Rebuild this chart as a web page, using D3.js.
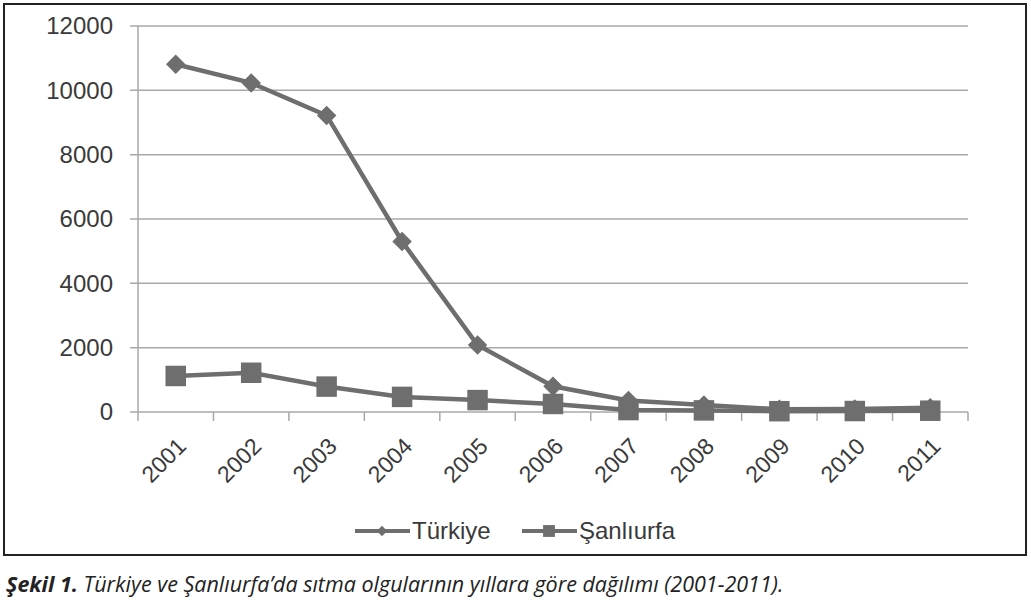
<!DOCTYPE html>
<html><head><meta charset="utf-8">
<script src="https://cdn.jsdelivr.net/npm/d3@7"></script>
<style>body{margin:0;background:#fff}svg{display:block}</style>
</head><body>
<svg id="c" width="1031" height="609"></svg>
<script>
const years = ["2001","2002","2003","2004","2005","2006","2007","2008","2009","2010","2011"];
const turkiye = [10810, 10230, 9220, 5300, 2080, 800, 360, 215, 85, 90, 130];
const sanliurfa = [1120, 1220, 790, 470, 370, 250, 60, 50, 25, 30, 40];
const yTicks = [0, 2000, 4000, 6000, 8000, 10000, 12000];
const seriesNames = ["Türkiye", "Şanlıurfa"];

const svg = d3.select("#c");
const col = "#6e6e6e";
const font = "'Liberation Sans', Arial, sans-serif";
const L = 138, R = 968, T = 26, B = 412;

svg.append("rect").attr("x",4).attr("y",4).attr("width",1022).attr("height",551)
  .attr("fill","none").attr("stroke","#222").attr("stroke-width",2);

const x = d3.scaleBand().domain(years).range([L,R]);
const y = d3.scaleLinear().domain([0,12000]).range([B,T]);

// gridlines
svg.append("g").selectAll("line").data(yTicks).join("line")
  .attr("x1",L-8).attr("x2",R).attr("y1",d=>y(d)).attr("y2",d=>y(d))
  .attr("stroke","#a8a8a8").attr("stroke-width",1.5);
// y axis line
svg.append("line").attr("x1",L).attr("x2",L).attr("y1",T).attr("y2",B)
  .attr("stroke","#a8a8a8").attr("stroke-width",1.5);
// y labels
svg.append("g").selectAll("text").data(yTicks).join("text")
  .attr("x",L-25).attr("y",d=>y(d)).attr("dy","0.35em").attr("text-anchor","end")
  .attr("font-family",font).attr("font-size",24).attr("fill","#3a3a3a")
  .text(d=>d);
// x ticks at boundaries
const bounds = years.map(d=>x(d)).concat([R]);
svg.append("g").selectAll("line").data(bounds).join("line")
  .attr("x1",d=>d).attr("x2",d=>d).attr("y1",B).attr("y2",B+9)
  .attr("stroke","#a8a8a8").attr("stroke-width",1.5);
// x labels
svg.append("g").selectAll("text").data(years).join("text")
  .attr("transform",d=>`translate(${x(d)+x.bandwidth()/2+6},${B+30}) rotate(-45)`)
  .attr("text-anchor","end").attr("dy","0.35em")
  .attr("font-family",font).attr("font-size",23).attr("fill","#3a3a3a")
  .text(d=>d);

const cx = d=>x(d)+x.bandwidth()/2;
const line = d3.line().x((v,i)=>cx(years[i])).y(v=>y(v));
const diamond = d3.symbol().type(d3.symbolSquare).size(190);
const square = d3.symbol().type(d3.symbolSquare).size(420);

svg.append("path").datum(sanliurfa).attr("d",line).attr("fill","none")
  .attr("stroke",col).attr("stroke-width",4.5);
svg.append("path").datum(turkiye).attr("d",line).attr("fill","none")
  .attr("stroke",col).attr("stroke-width",4.5);
svg.append("g").selectAll("path").data(turkiye).join("path")
  .attr("transform",(v,i)=>`translate(${cx(years[i])},${y(v)}) rotate(45)`)
  .attr("d",diamond).attr("fill",col);
svg.append("g").selectAll("path").data(sanliurfa).join("path")
  .attr("transform",(v,i)=>`translate(${cx(years[i])},${y(v)})`)
  .attr("d",square).attr("fill",col);

// legend
const lg = svg.append("g").attr("font-family",font).attr("font-size",24).attr("fill","#3a3a3a");
const ly = 531;
lg.append("line").attr("x1",355).attr("x2",410).attr("y1",ly).attr("y2",ly).attr("stroke",col).attr("stroke-width",4);
lg.append("path").attr("transform",`translate(382,${ly}) rotate(45)`).attr("d",d3.symbol().type(d3.symbolSquare).size(55)).attr("fill",col);
lg.append("text").attr("x",412).attr("y",ly).attr("dy","0.35em").text(seriesNames[0]);
lg.append("line").attr("x1",522).attr("x2",577).attr("y1",ly).attr("y2",ly).attr("stroke",col).attr("stroke-width",4);
lg.append("path").attr("transform",`translate(549,${ly})`).attr("d",d3.symbol().type(d3.symbolSquare).size(140)).attr("fill",col);
lg.append("text").attr("x",579).attr("y",ly).attr("dy","0.35em").text(seriesNames[1]);

// caption
const cap = svg.append("text").attr("x",6).attr("y",592).attr("font-family","'Open Sans', sans-serif")
  .attr("font-size",21.5).attr("font-style","italic").attr("fill","#222");
cap.append("tspan").attr("font-weight","bold").text("Şekil 1.");
cap.append("tspan").text(" Türkiye ve Şanlıurfa’da sıtma olgularının yıllara göre dağılımı (2001-2011).");
</script>
</body></html>
